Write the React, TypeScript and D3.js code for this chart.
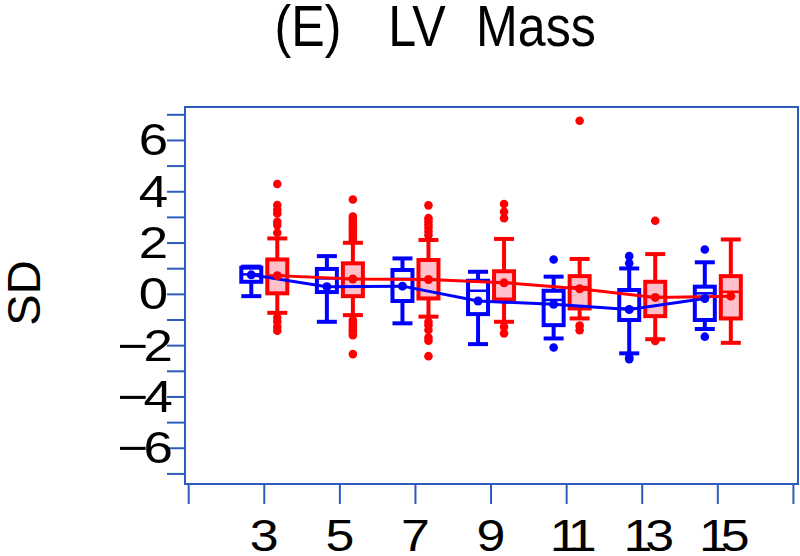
import React from 'react';
import * as d3 from 'd3';

const ages = [3, 5, 7, 9, 11, 13, 15];

const blueLow = [-0.07, -1.07, -1.13, -1.94, -1.72, -2.3, -1.35];
const blueQ1 = [0.49, 0.09, -0.26, -0.77, -1.2, -1.0, -1.0];
const blueMedian = [0.78, 0.62, 0.6, 0.14, -0.22, -0.55, 0.04];
const blueQ3 = [1.04, 0.99, 0.95, 0.53, 0.14, 0.17, 0.3];
const blueHigh = [1.08, 1.49, 1.4, 0.88, 0.69, 1.01, 1.25];
const blueMean = [0.76, 0.3, 0.32, -0.26, -0.39, -0.59, -0.16];
const blueOutliers = [
  [],
  [],
  [],
  [],
  [1.36, -2.07],
  [1.49, 1.21, -2.45, -2.53],
  [1.75, -1.65],
];

const redLow = [-0.72, -0.81, -0.87, -1.07, -0.94, -1.75, -1.89];
const redQ1 = [0.04, -0.07, -0.16, -0.2, -0.55, -0.85, -0.94];
const redMedian = [0.73, 0.6, 0.58, 0.45, 0.28, -0.1, 0.1];
const redQ3 = [1.36, 1.21, 1.34, 0.9, 0.71, 0.49, 0.71];
const redHigh = [2.18, 2.01, 2.12, 2.16, 1.38, 1.57, 2.14];
const redMean = [0.73, 0.6, 0.58, 0.45, 0.22, -0.12, -0.07];
const redOutliers = [
  [4.3, 3.48, 3.3, 3.15, 2.83, 2.7, 2.4, -0.9, -1.07, -1.26, -1.42],
  [3.7, 3.03, 2.93, 2.83, 2.73, 2.63, 2.53, 2.43, 2.33, 2.23, 2.12, -1.0, -1.1, -1.2, -1.3, -1.4, -1.5, -1.59, -2.33],
  [3.47, 2.97, 2.85, 2.72, 2.6, 2.45, 2.3, -1.07, -1.2, -1.39, -1.68, -1.81, -2.41],
  [3.52, 3.22, 2.97, -1.26, -1.52],
  [6.77, -1.22, -1.4],
  [2.87, -1.82],
  [],
];

const yTicks = d3.range(-7, 8);
const yLabels = [-6, -4, -2, 0, 2, 4, 6];
const xTicks = [1, 3, 5, 7, 9, 11, 13, 15, 17];
const xLabels = [3, 5, 7, 9, 11, 13, 15];
const titleParts = ['(E)', 'LV', 'Mass'];

const AXIS = '#2d5bbd';
const BLUE = '#0000ff';
const RED = '#ff0000';
const PINK = '#ffc0cb';
const FONT = '"Liberation Sans", Arial, Helvetica, sans-serif';

const x = d3.scaleLinear().domain([1, 17]).range([188.7, 793.4]);
const y = d3.scaleLinear().domain([-7, 7]).range([473.9, 114.8]);

const frame = { left: 185, top: 107, right: 798, bottom: 484 };
const titleCx = [308, 417, 536];

type Group = {
  low: number[];
  q1: number[];
  med: number[];
  q3: number[];
  high: number[];
  mean: number[];
  out: number[][];
  color: string;
  fill: string;
  offset: number;
};

const groups: Group[] = [
  { low: blueLow, q1: blueQ1, med: blueMedian, q3: blueQ3, high: blueHigh, mean: blueMean, out: blueOutliers, color: BLUE, fill: '#ffffff', offset: -13 },
  { low: redLow, q1: redQ1, med: redMedian, q3: redQ3, high: redHigh, mean: redMean, out: redOutliers, color: RED, fill: PINK, offset: 13 },
];

const BOXW = 20;
const SW = 4;

function Boxes({ g }: { g: Group }) {
  return (
    <g>
      {ages.map((a, i) => {
        const cx = x(a) + g.offset;
        return (
          <g key={a}>
            <line x1={cx} x2={cx} y1={y(g.q3[i])} y2={y(g.high[i])} stroke={g.color} strokeWidth={SW} />
            <line x1={cx} x2={cx} y1={y(g.q1[i])} y2={y(g.low[i])} stroke={g.color} strokeWidth={SW} />
            <line x1={cx - BOXW / 2} x2={cx + BOXW / 2} y1={y(g.high[i])} y2={y(g.high[i])} stroke={g.color} strokeWidth={SW} />
            <line x1={cx - BOXW / 2} x2={cx + BOXW / 2} y1={y(g.low[i])} y2={y(g.low[i])} stroke={g.color} strokeWidth={SW} />
            <rect
              x={cx - BOXW / 2}
              y={y(g.q3[i])}
              width={BOXW}
              height={y(g.q1[i]) - y(g.q3[i])}
              fill={g.fill}
              stroke={g.color}
              strokeWidth={SW}
            />
            <line x1={cx - BOXW / 2} x2={cx + BOXW / 2} y1={y(g.med[i])} y2={y(g.med[i])} stroke={g.color} strokeWidth={2.5} />
            {g.out[i].map((v, j) => (
              <circle key={j} cx={cx} cy={y(v)} r={4.3} fill={g.color} />
            ))}
          </g>
        );
      })}
    </g>
  );
}

export default function App() {
  const lineFor = (g: Group) =>
    d3
      .line<number>()
      .x((_, i) => x(ages[i]) + g.offset)
      .y((d) => y(d))(g.mean) || '';

  return (
    <svg
      width={800}
      height={556}
      style={{ position: 'absolute', left: 0, top: 0, background: '#ffffff' }}
    >
      <rect x={0} y={0} width={800} height={556} fill="#ffffff" />
      {/* title */}
      {titleParts.map((p, i) => (
        <g key={p} transform={`translate(${titleCx[i]},46) scale(0.88,1)`}>
          <text textAnchor="middle" fontFamily={FONT} fontSize={57} fill="#000">
            {p}
          </text>
        </g>
      ))}
      {/* y axis label */}
      <text
        transform="translate(39.5,293) rotate(-90)"
        textAnchor="middle"
        fontFamily={FONT}
        fontSize={47}
        fill="#000"
      >
        SD
      </text>
      {/* frame */}
      <rect
        x={frame.left}
        y={frame.top}
        width={frame.right - frame.left}
        height={frame.bottom - frame.top}
        fill="none"
        stroke={AXIS}
        strokeWidth={2}
      />
      {/* y ticks */}
      {yTicks.map((t) => (
        <line key={t} x1={167} x2={frame.left} y1={y(t)} y2={y(t)} stroke={AXIS} strokeWidth={2} />
      ))}
      {yLabels.map((t) => (
        <g key={t} transform={`translate(168,${y(t) + 15}) scale(1.2,1)`}>
          <text textAnchor="end" fontFamily={FONT} fontSize={44} fill="#000" letterSpacing={t < 0 ? -4 : 0}>
            {t < 0 ? '\u2212' + Math.abs(t) : String(t)}
          </text>
        </g>
      ))}
      {/* x ticks */}
      {xTicks.map((t) => (
        <line key={t} x1={x(t)} x2={x(t)} y1={frame.bottom} y2={504} stroke={AXIS} strokeWidth={2} />
      ))}
      {xLabels.map((t) => (
        <g key={t} transform={`translate(${x(t) + (t >= 10 ? 3 : 0)},551) scale(1.18,1)`}>
          <text textAnchor="middle" fontFamily={FONT} fontSize={44} fill="#000" letterSpacing={t >= 10 ? -6 : 0}>
            {String(t)}
          </text>
        </g>
      ))}
      {/* boxes */}
      <Boxes g={groups[0]} />
      <Boxes g={groups[1]} />
      {/* mean lines */}
      <path d={lineFor(groups[0])} fill="none" stroke={BLUE} strokeWidth={3} />
      <path d={lineFor(groups[1])} fill="none" stroke={RED} strokeWidth={3} />
      {/* mean markers */}
      {groups.map((g, gi) =>
        g.mean.map((m, i) => (
          <circle key={`${gi}-${i}`} cx={x(ages[i]) + g.offset} cy={y(m)} r={4.5} fill={g.color} />
        ))
      )}
    </svg>
  );
}
